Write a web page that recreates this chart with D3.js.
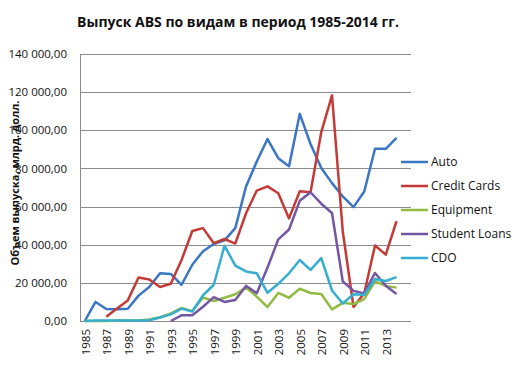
<!DOCTYPE html>
<html>
<head>
<meta charset="utf-8">
<script src="https://cdn.jsdelivr.net/npm/d3@7"></script>
<style>
  body { margin: 0; background: #fff; }
  text { font-family: "Open Sans", sans-serif; fill: #111; }
</style>
</head>
<body>
<svg id="chart"></svg>
<script>
// данные
const years = [1985, 1986, 1987, 1988, 1989, 1990, 1991, 1992, 1993, 1994,
  1995, 1996, 1997, 1998, 1999, 2000, 2001, 2002, 2003, 2004,
  2005, 2006, 2007, 2008, 2009, 2010, 2011, 2012, 2013, 2014];
const yTicks = [0, 20000, 40000, 60000, 80000, 100000, 120000, 140000];

const auto = [0, 10000, 6300, 6200, 6400, 13300, 17800, 25000, 24700, 19000,
  29500, 36600, 40400, 42300, 48700, 70500, 83600, 95400, 85400, 81200,
  108600, 92800, 80200, 72300, 65300, 59700, 67900, 90300, 90300, 96000];
const creditCards = [null, null, 2200, 6500, 10800, 22800, 21800, 17800, 19500, 32000,
  47200, 48700, 40800, 43000, 40600, 56500, 68400, 70600, 67000, 53800,
  68000, 67500, 99000, 118300, 47000, 7400, 14500, 39600, 34800, 52300];
const equipment = [0, 0, 0, 200, 300, 300, 800, 2000, 4000, 6800,
  5200, 12300, 10500, 12200, 14000, 17500, 12800, 7300, 14700, 12200,
  16900, 14700, 14200, 6100, 9500, 8900, 11500, 20800, 18400, 17500];
const studentLoans = [null, null, null, null, null, null, null, null, 0, 3000,
  3000, 7500, 12500, 10000, 11000, 18400, 14600, 28000, 42800, 48000,
  63000, 67500, 61500, 56600, 20800, 15800, 14500, 25200, 18500, 14200];
const cdo = [0, 200, 300, 300, 300, 300, 400, 1800, 3500, 6500,
  5000, 13500, 19000, 39500, 29000, 26000, 25000, 14800, 19500, 25000,
  32000, 26800, 33000, 16000, 9200, 14000, 13800, 22000, 21000, 23000];

const seriesNames = ["Auto", "Credit Cards", "Equipment", "Student Loans", "CDO"];
const seriesValues = [auto, creditCards, equipment, studentLoans, cdo];
const colors = ["#3a76c4", "#c43a36", "#92bb44", "#7456a2", "#36aed0"];

const margin = { top: 54, right: 110, bottom: 65, left: 80 },
  width = 521 - margin.left - margin.right,
  height = 386 - margin.top - margin.bottom;

const svg = d3.select("#chart")
  .attr("width", 521)
  .attr("height", 386);

const chart = svg.append("g")
  .attr("transform", "translate(" + margin.left + "," + margin.top + ")");

const x = d3.scalePoint()
  .domain(years)
  .range([4.8, 316.5]);

const y = d3.scaleLinear()
  .domain([0, 140000])
  .range([height, 0]);

const ru = d3.formatLocale({ decimal: ",", thousands: "\u00a0", grouping: [3], currency: ["", ""] });
const fmt = ru.format(",.2f");

// сетка
chart.append("g")
  .selectAll("line")
  .data(yTicks.slice(1))
  .join("line")
    .attr("x1", 0)
    .attr("x2", width)
    .attr("y1", d => Math.round(y(d)) + 0.5)
    .attr("y2", d => Math.round(y(d)) + 0.5)
    .attr("stroke", "#8c8c8c")
    .attr("stroke-width", 1);

// оси
const yAxis = chart.append("g")
  .call(d3.axisLeft(y).tickValues(yTicks).tickSize(0).tickPadding(13).tickFormat(fmt));
yAxis.select(".domain").attr("stroke", "#8c8c8c");
yAxis.selectAll("text").style("font-size", "11.5px");

const xAxis = chart.append("g")
  .attr("transform", "translate(0," + height + ")")
  .call(d3.axisBottom(x).tickValues(years.filter((d, i) => i % 2 === 0)).tickSize(0).tickPadding(0));
xAxis.select(".domain").attr("stroke", "#8c8c8c").attr("d", "M0,0.5H" + width);
xAxis.selectAll("text")
  .style("font-size", "11.5px")
  .attr("transform", "rotate(-90)")
  .attr("text-anchor", "end")
  .attr("x", -8)
  .attr("y", 0.5)
  .attr("dy", "0.35em");

// линии
const line = d3.line()
  .defined(d => d.v !== null)
  .x(d => x(d.year))
  .y(d => y(d.v));

seriesValues.forEach((vals, k) => {
  chart.append("path")
    .datum(years.map((yr, i) => ({ year: yr, v: vals[i] })))
    .attr("d", line)
    .attr("fill", "none")
    .attr("stroke", colors[k])
    .attr("stroke-width", 2.5)
    .attr("stroke-linejoin", "round");
});

// легенда
const legend = svg.append("g")
  .attr("transform", "translate(401,162)");
const item = legend.selectAll("g")
  .data(seriesNames)
  .join("g")
    .attr("transform", (d, i) => "translate(0," + i * 24 + ")");
item.append("line")
  .attr("x1", 0).attr("x2", 27)
  .attr("stroke", (d, i) => colors[i])
  .attr("stroke-width", 2.5);
item.append("text")
  .attr("x", 30)
  .attr("dy", "0.35em")
  .style("font-size", "12px")
  .text(d => d);

// заголовки
svg.append("text")
  .attr("x", 238)
  .attr("y", 27)
  .attr("text-anchor", "middle")
  .style("font-size", "14px")
  .style("font-weight", "bold")
  .text("Выпуск ABS по видам в период 1985-2014 гг.");

svg.append("text")
  .attr("transform", "translate(19,183) rotate(-90)")
  .attr("text-anchor", "middle")
  .style("font-size", "11px")
  .style("font-weight", "bold")
  .text("Объем выпуска, млрд. долл.");
</script>
</body>
</html>
